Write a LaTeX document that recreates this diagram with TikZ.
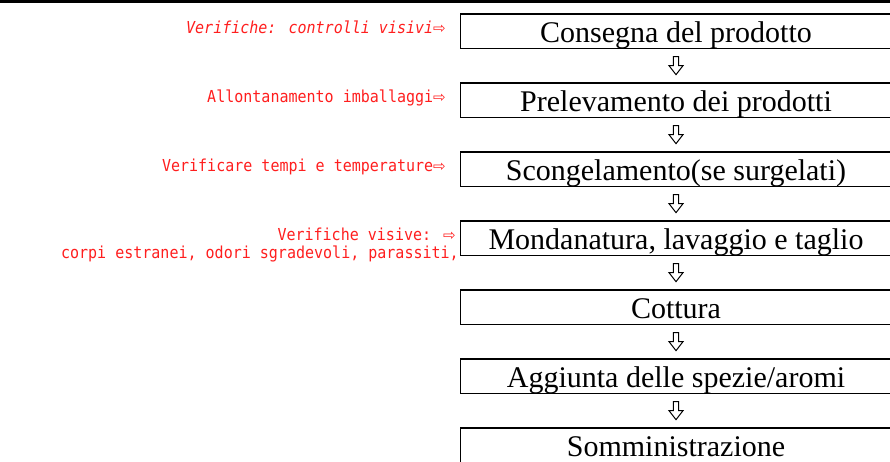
\documentclass[tikz,border=0pt]{standalone}
\usepackage{fontspec}
\setmainfont{Liberation Serif}
\newfontfamily\monof[FakeStretch=0.91]{DejaVu Sans Mono}
\newfontfamily\arrf{DejaVu Sans}
\usetikzlibrary{calc}
\definecolor{notered}{RGB}{255,30,30}
\tikzset{
  stepbox/.style={draw, line width=1.8pt, minimum width=431pt, inner sep=0pt,
    text height=28.5pt, text depth=6pt, anchor=north,
    font=\fontsize{30}{32}\selectfont},
  note/.style={text=notered, inner sep=0pt, anchor=base east, align=right,
    font=\monof\fontsize{16.5}{17.5}\selectfont},
  downarr/.pic={\draw[line width=1pt, fill=white] (-2.6,-9) -- (2.6,-9) -- (2.6,0) -- (7,0) -- (0,9) -- (-7,0) -- (-2.6,0) -- cycle;}
}
\newcommand{\rarr}{{\arrf\fontsize{15}{17}\selectfont ⇨}}
\begin{document}
\begin{tikzpicture}[x=1pt,y=-1pt]
\useasboundingbox (0,0) rectangle (890,461);
\fill (0,0) rectangle (890,3);
\node[stepbox] (b1) at (676,13) {Consegna del prodotto};
\node[stepbox] (b2) at (676,82) {Prelevamento dei prodotti};
\node[stepbox] (b3) at (676,151) {Scongelamento(se surgelati)};
\node[stepbox] (b4) at (676,220) {Mondanatura, lavaggio e taglio};
\node[stepbox] (b5) at (676,289) {Cottura};
\node[stepbox] (b6) at (676,358) {Aggiunta delle spezie/aromi};
\node[stepbox] (b7) at (676,427) {Somministrazione};
\foreach \a/\b in {b1/b2,b2/b3,b3/b4,b4/b5,b5/b6,b6/b7}
  \pic at ($(\a.south)!0.5!(\b.north)$) {downarr};
\node[note] (n1) at (446,33.5) {\itshape Verifiche: controlli visivi\rarr};
\node[note] (n2) at (446,102.5) {Allontanamento imballaggi\rarr};
\node[note] (n3) at (446,171.5) {Verificare tempi e temperature\rarr};
\node[note] (n4a) at (456,240.5) {Verifiche visive: \rarr};
\node[note] (n4b) at (459,258) {corpi estranei, odori sgradevoli, parassiti,};
\end{tikzpicture}
\end{document}
